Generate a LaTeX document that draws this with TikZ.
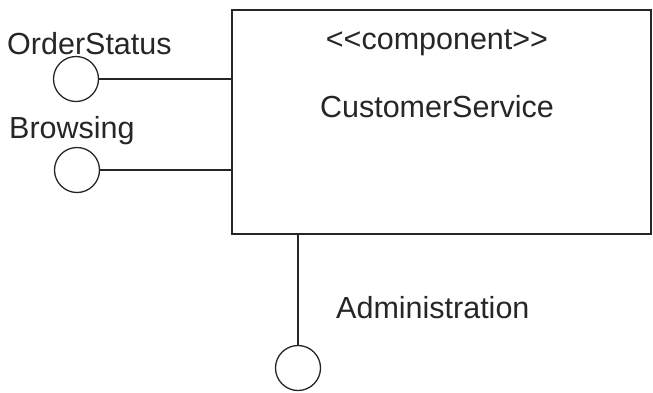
\documentclass[tikz,border=0pt]{standalone}
\usepackage{fontspec}
\setmainfont{Liberation Sans}
\begin{document}
\begin{tikzpicture}[x=1pt,y=-1pt,
  conn/.style={line width=1.6pt, draw=black!85},
  iface/.style={circle, draw=black!85, line width=1.3pt, minimum size=45pt, inner sep=0pt},
  lbl/.style={font=\fontsize{30.5}{33}\selectfont, text=black!85, inner sep=0pt},
  comp/.style={draw=black!85, line width=2pt, minimum width=419pt, minimum height=224pt, inner sep=0pt}]
\useasboundingbox (0,0) rectangle (653,392);
\node[comp] (cs) at (441.5,122) {};
\node[lbl] (st) at (437,43) {<{}<component>{}>};
\node[lbl] (nm) at (437,107) {CustomerService};
\node[iface] (os) at (76,79) {};
\node[iface] (br) at (77,170) {};
\node[iface] (ad) at (298,368) {};
\node[lbl, anchor=west] (osl) at (7,44) {OrderStatus};
\node[lbl, anchor=west] (brl) at (9,131) {Browsing};
\node[lbl, anchor=west] (adl) at (336,308) {Administration};
\draw[conn] (os.east) -- (os.east -| cs.west);
\draw[conn] (br.east) -- (br.east -| cs.west);
\draw[conn] (ad.north) -- (ad.north |- cs.south);
\end{tikzpicture}
\end{document}
